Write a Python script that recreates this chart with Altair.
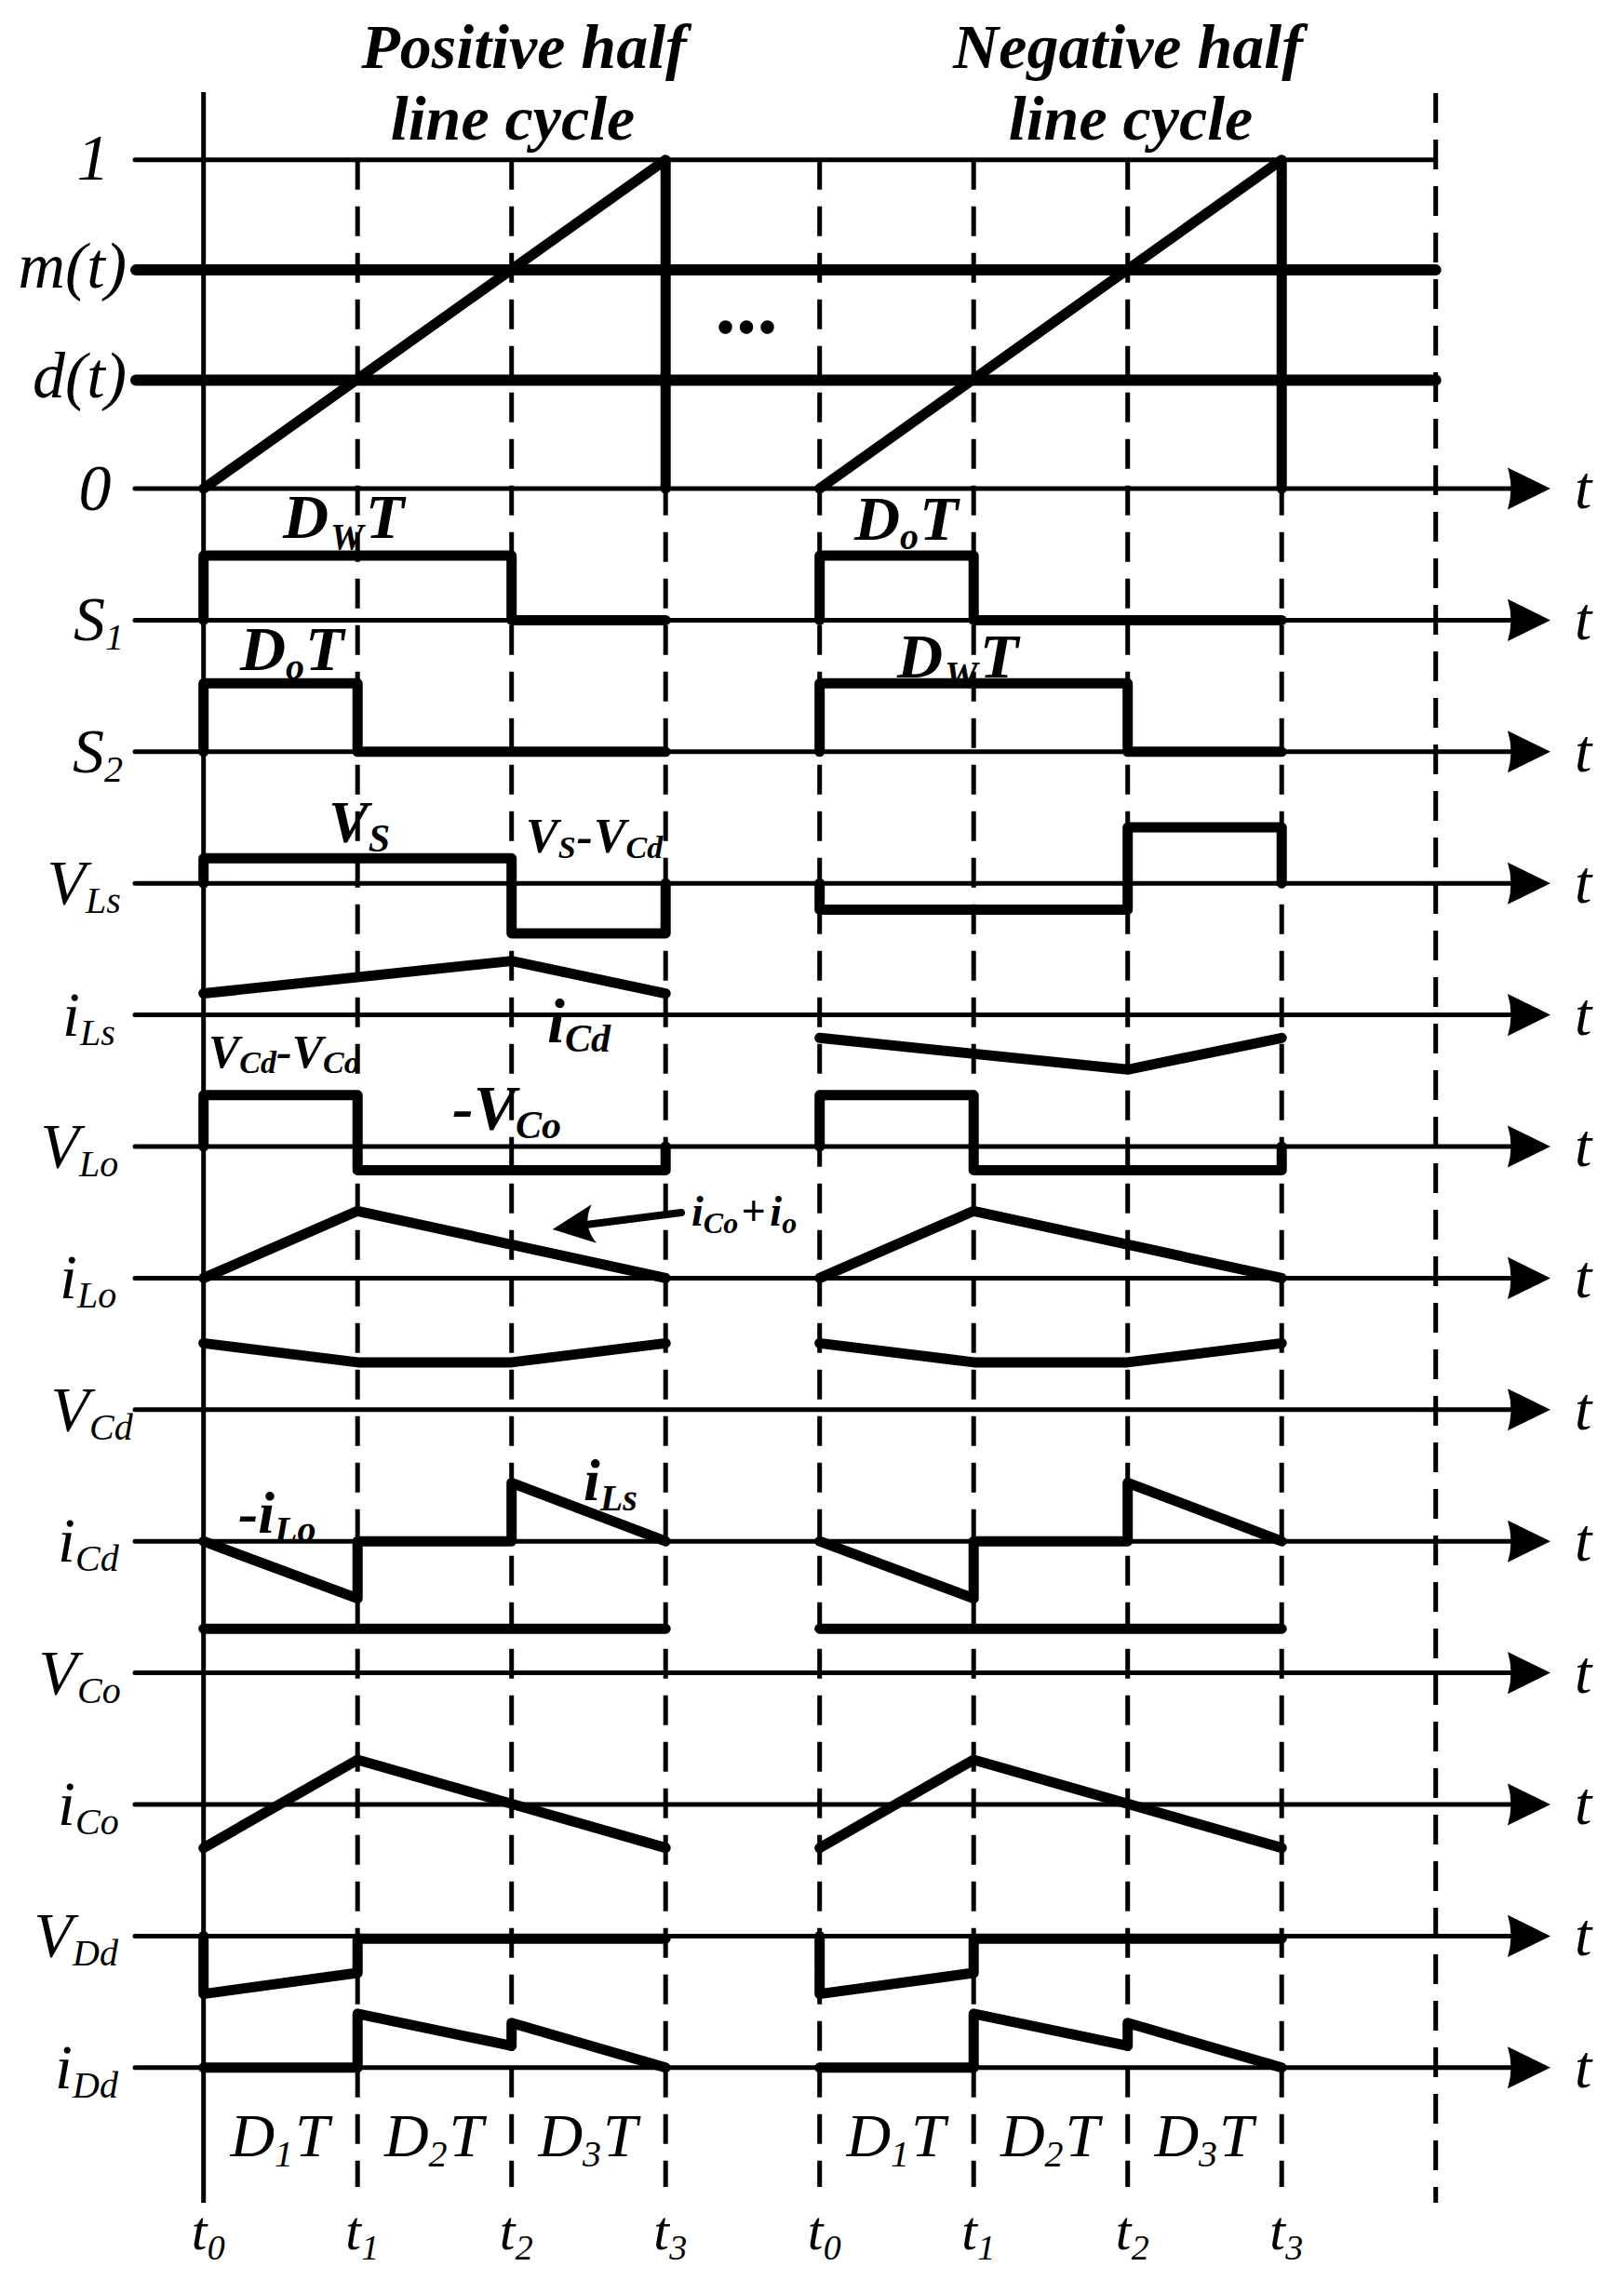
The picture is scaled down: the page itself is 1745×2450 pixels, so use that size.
import altair as alt
import pandas as pd

# ------------------------------------------------------------------
# Values
# ------------------------------------------------------------------
# switching instants t0..t3 (in units of one sub-interval) and half-cycle starts
T_MARKS = [0, 1, 2, 3]
HALF_START = [0, 4]
T_RIGHT = 8

# carrier / modulation levels (fraction of carrier peak "1")
D_LEVEL = 0.33
M_LEVEL = 0.665
RAMP_T = [0, 3, 3]
RAMP_V = [0, 1, 0]

# waveforms (time inside the half cycle, amplitude in row heights)
S1_POS_T = [0, 0, 2, 2, 3]
S1_POS_V = [0, 0.49, 0.49, 0, 0]
S1_NEG_T = [0, 0, 1, 1, 3]
S1_NEG_V = [0, 0.49, 0.49, 0, 0]
S2_POS_T = [0, 0, 1, 1, 3]
S2_POS_V = [0, 0.52, 0.52, 0, 0]
S2_NEG_T = [0, 0, 2, 2, 3]
S2_NEG_V = [0, 0.52, 0.52, 0, 0]
VLS_POS_T = [0, 0, 2, 2, 3, 3]
VLS_POS_V = [0, 0.19, 0.19, -0.38, -0.38, 0]
VLS_NEG_T = [0, 0, 2, 2, 3, 3]
VLS_NEG_V = [0, -0.20, -0.20, 0.425, 0.425, 0]
ILS_POS_T = [0, 2, 3]
ILS_POS_V = [0.163, 0.41, 0.163]
ILS_NEG_T = [0, 2, 3]
ILS_NEG_V = [-0.175, -0.415, -0.175]
VLO_T = [0, 0, 1, 1, 3, 3]
VLO_V = [0, 0.39, 0.39, -0.18, -0.18, 0]
ILO_T = [0, 1, 3]
ILO_V = [0, 0.51, 0]
VCD_T = [0, 1, 2, 3]
VCD_V = [0.505, 0.36, 0.36, 0.505]
ICD_T = [0, 1, 1, 2, 2, 3]
ICD_V = [0, -0.435, 0, 0, 0.445, 0]
VCO_T = [0, 3]
VCO_V = [0.335, 0.335]
ICO_T = [0, 1, 3]
ICO_V = [-0.33, 0.34, -0.33]
VDD_T = [0, 0, 1, 1, 3]
VDD_V = [0, -0.44, -0.28, -0.02, -0.02]
IDD_T = [0, 1, 1, 2, 2, 3]
IDD_V = [0, 0, 0.41, 0.165, 0.34, 0]

# row labels (main symbol + subscript), rows 1..12 below the carrier row
ROW_MAIN = ["S", "S", "V", "i", "V", "i", "V", "i", "V", "i", "V", "i"]
ROW_SUB = ["1", "2", "Ls", "Ls", "Lo", "Lo", "Cd", "Cd", "Co", "Co", "Dd", "Dd"]

# ------------------------------------------------------------------
# Layout (pixel geometry of the reference)
# ------------------------------------------------------------------
X0, KX = 218.7, 165.5      # px of t0, px per sub-interval
Y0, KY = 525.0, 141.4      # px of the "0" axis, px per row
W, H = 1729, 2434
XMIN = (8 - X0) / KX
XMAX = XMIN + W / KX
YMAX = (Y0 - 8) / KY
YMIN = YMAX - H / KY
ONE_ROWS = (Y0 - 171.8) / KY   # height of carrier level "1" in rows


def tx(px):
    return (px - X0) / KX


def ty(py):
    return (Y0 - py) / KY


def PX(t):
    return X0 + t * KX


XS = alt.Scale(domain=[XMIN, XMAX], nice=False, zero=False)
YS = alt.Scale(domain=[YMIN, YMAX], nice=False, zero=False)
FONT = "Liberation Serif"

# ------------------------------------------------------------------
# Waveform table
# ------------------------------------------------------------------
wave_rows = []


def add(seg, row, start, ts, vs, scale=1.0):
    for i, (t, v) in enumerate(zip(ts, vs)):
        wave_rows.append(dict(seg=seg, x=start + t, y=-row + v * scale, o=i))


for h, start in enumerate(HALF_START):
    pos = h == 0
    add(f"ramp{h}", 0, start, RAMP_T, RAMP_V, ONE_ROWS)
    add(f"s1{h}", 1, start, *((S1_POS_T, S1_POS_V) if pos else (S1_NEG_T, S1_NEG_V)))
    add(f"s2{h}", 2, start, *((S2_POS_T, S2_POS_V) if pos else (S2_NEG_T, S2_NEG_V)))
    add(f"vls{h}", 3, start, *((VLS_POS_T, VLS_POS_V) if pos else (VLS_NEG_T, VLS_NEG_V)))
    add(f"ils{h}", 4, start, *((ILS_POS_T, ILS_POS_V) if pos else (ILS_NEG_T, ILS_NEG_V)))
    add(f"vlo{h}", 5, start, VLO_T, VLO_V)
    add(f"ilo{h}", 6, start, ILO_T, ILO_V)
    add(f"vcd{h}", 7, start, VCD_T, VCD_V)
    add(f"icd{h}", 8, start, ICD_T, ICD_V)
    add(f"vco{h}", 9, start, VCO_T, VCO_V)
    add(f"ico{h}", 10, start, ICO_T, ICO_V)
    add(f"vdd{h}", 11, start, VDD_T, VDD_V)
    add(f"idd{h}", 12, start, IDD_T, IDD_V)

waves = pd.DataFrame(wave_rows)

# thick level lines m(t), d(t)
levels = pd.DataFrame(
    [dict(x=tx(146), x2=T_RIGHT, y=lv * ONE_ROWS) for lv in (D_LEVEL, M_LEVEL)]
)

# thin horizontal axes
h_axes = [dict(x=tx(145), x2=tx(1640), y=-k) for k in range(13)]
h_axes.append(dict(x=tx(145), x2=T_RIGHT, y=ONE_ROWS))
h_axes = pd.DataFrame(h_axes)

# vertical lines
v_solid = pd.DataFrame([dict(x=0, y=ty(99), y2=ty(2367))])
v_dash = pd.DataFrame(
    [dict(x=h + k, y=ONE_ROWS, y2=ty(2350)) for h in HALF_START for k in T_MARKS if h + k != 0]
    + [dict(x=T_RIGHT, y=ty(100), y2=ty(2367))]
)

# arrow heads
heads = pd.DataFrame([dict(x=tx(1643), y=-k) for k in range(13)])

# ------------------------------------------------------------------
# Text
# ------------------------------------------------------------------
texts = []


def txt(layer, px, py, s, size):
    texts.append(dict(layer=layer, x=tx(px), y=ty(py), text=s, size=size))


# advance widths (em) of Times-metric italic fonts
RI_W = {"S": .5, "V": .611, "i": .278, "L": .556, "s": .389, "o": .5, "C": .667,
        "d": .5, "D": .722, "T": .556, "t": .278, "0": .5, "1": .5, "2": .5, "3": .5}
BI_W = {"D": .722, "T": .611, "V": .667, "S": .556, "i": .278, "C": .667, "d": .5,
        "o": .5, "L": .611, "s": .389, "W": .889, "-": .333, "+": .570}


def seq(layer, widths, px, pieces):
    """pieces: (text, baseline_px, size, gap_after_px)"""
    x = px
    for s, py, size, gap in pieces:
        txt(layer, x, py, s, size)
        x += sum(widths[c] for c in s) * size + gap


# row labels: main right-aligned up to the subscript start
SUB_LEFT = [113, 112, 92, 86, 85, 83, 96, 81, 83, 81, 78, 78]
for k in range(1, 13):
    a = Y0 + k * KY
    txt("reg_right", SUB_LEFT[k - 1], a + 22, ROW_MAIN[k - 1], 68)
    txt("reg_left", SUB_LEFT[k - 1], a + 32, ROW_SUB[k - 1], 40)
for k in range(13):
    txt("reg_left", 1692, Y0 + k * KY + 21, "t", 66)

txt("reg_center", 100, 193, "1", 70)
txt("reg_right", 136, 309, "m(t)", 70)
txt("reg_right", 136, 427, "d(t)", 70)
txt("reg_center", 102, 548, "0", 70)

for h in HALF_START:
    for i in range(3):
        c = PX(h + i + 0.5)
        seq("reg_left", RI_W, c - 54, [("D", 2317, 66, 0), (str(i + 1), 2328, 40, 2),
                                       ("T", 2317, 66, 0)])
    for k in T_MARKS:
        x = PX(h + k)
        txt("reg_left", x - 13, 2417, "t", 60)
        txt("reg_left", x + 4, 2428, str(k), 38)

# titles
txt("bold_center", 563, 73, "Positive half", 68)
txt("bold_center", 551, 150, "line cycle", 68)
txt("bold_center", 1212, 73, "Negative half", 68)
txt("bold_center", 1215, 150, "line cycle", 68)
txt("dots", 802, 358, "...", 90)

# annotations (bold italic)
seq("bold_left", BI_W, 304, [("D", 578, 68, 2), ("W", 590, 40, 2), ("T", 578, 68, 0)])
seq("bold_left", BI_W, 258, [("D", 720, 68, 0), ("o", 730, 40, 1), ("T", 720, 68, 0)])
seq("bold_left", BI_W, 918, [("D", 580, 68, 0), ("o", 590, 40, 1), ("T", 580, 68, 0)])
seq("bold_left", BI_W, 964, [("D", 728, 68, 2), ("W", 738, 40, 2), ("T", 728, 68, 0)])
seq("bold_left", BI_W, 353, [("V", 905, 64, 0), ("S", 915, 42, 0)])
seq("bold_left", BI_W, 565, [("V", 916, 52, 0), ("S", 922, 34, 1), ("-", 916, 52, 1),
                             ("V", 916, 52, 0), ("Cd", 922, 34, 0)])
seq("bold_left", BI_W, 588, [("i", 1120, 68, 0), ("Cd", 1130, 42, 0)])
seq("bold_left", BI_W, 224, [("V", 1147, 50, 0), ("Cd", 1153, 34, 0), ("-", 1147, 50, 0),
                             ("V", 1147, 50, 0), ("Co", 1153, 34, 0)])
seq("bold_left", BI_W, 486, [("-", 1213, 68, 0), ("V", 1213, 68, 0), ("Co", 1223, 42, 0)])
seq("bold_left", BI_W, 743, [("i", 1317, 46, 0), ("Co", 1325, 32, 3), ("+", 1317, 46, 5),
                             ("i", 1317, 46, 0), ("o", 1325, 32, 0)])
seq("bold_left", BI_W, 256, [("-", 1647, 64, 0), ("i", 1647, 64, 0), ("Lo", 1657, 40, 0)])
seq("bold_left", BI_W, 627, [("i", 1612, 64, 0), ("Ls", 1623, 40, 0)])

tdf = pd.DataFrame(texts)

# ------------------------------------------------------------------
# Chart
# ------------------------------------------------------------------
X = alt.X("x:Q", scale=XS, axis=None)
Y = alt.Y("y:Q", scale=YS, axis=None)

thin = alt.Chart(h_axes).mark_rule(color="black", strokeWidth=5, strokeCap="round").encode(
    x=X, x2="x2:Q", y=Y)
solid_v = alt.Chart(v_solid).mark_rule(color="black", strokeWidth=5).encode(
    x=X, y=Y, y2="y2:Q")
dash_v = alt.Chart(v_dash).mark_rule(color="black", strokeWidth=5, strokeDash=[32, 18]).encode(
    x=X, y=Y, y2="y2:Q")
lvl = alt.Chart(levels).mark_rule(color="black", strokeWidth=12, strokeCap="round").encode(
    x=X, x2="x2:Q", y=Y)
wave = alt.Chart(waves).mark_line(color="black", strokeWidth=11, strokeCap="round",
                                  strokeJoin="round").encode(
    x=X, y=Y, detail="seg:N", order="o:Q")
arrow_heads = alt.Chart(heads).mark_point(
    shape="M -1 -0.98 L 1 0 L -1 0.98 Q -0.7 0 -1 -0.98 Z",
    filled=True, color="black", opacity=1, size=2116, strokeWidth=0).encode(x=X, y=Y)

shaft = alt.Chart(pd.DataFrame([dict(x=tx(732), y=ty(1303), x2=tx(622), y2=ty(1317))])).mark_rule(
    color="black", strokeWidth=8, strokeCap="round").encode(x=X, y=Y, x2="x2:Q", y2="y2:Q")
ann_head = alt.Chart(pd.DataFrame([dict(x=tx(616), y=ty(1318))])).mark_point(
    shape="M -1 -0.93 L 1 0 L -1 0.93 Q -0.4 0 -1 -0.93 Z",
    filled=True, color="black", opacity=1, size=2025, angle=172.6, strokeWidth=0).encode(x=X, y=Y)

SIZE = alt.Size("size:Q", scale=None, legend=None)


def text_layer(layer, align, weight, style):
    d = tdf[tdf.layer == layer]
    return alt.Chart(d).mark_text(font=FONT, fontStyle=style, fontWeight=weight, align=align,
                                  baseline="alphabetic", color="black").encode(
        x=X, y=Y, text="text:N", size=SIZE)


layers = [
    thin, solid_v, dash_v, lvl, wave, arrow_heads, shaft, ann_head,
    text_layer("reg_left", "left", "normal", "italic"),
    text_layer("reg_center", "center", "normal", "italic"),
    text_layer("reg_right", "right", "normal", "italic"),
    text_layer("bold_left", "left", "bold", "italic"),
    text_layer("bold_center", "center", "bold", "italic"),
    text_layer("dots", "center", "bold", "normal"),
]

chart = alt.layer(*layers).properties(
    width=W, height=H, autosize=alt.AutoSizeParams(type="none"), padding=0,
    background="white"
).configure_view(stroke=None)

chart.save("out.html", embed_options={"renderer": "svg", "actions": False})
